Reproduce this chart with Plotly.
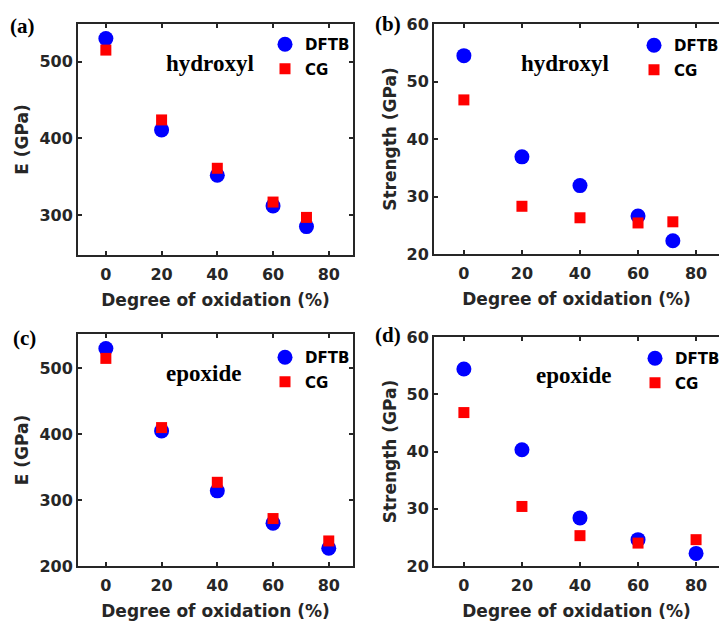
import plotly.graph_objects as go

# Degree of oxidation (%)
ox_hydroxyl = [0, 20, 40, 60, 72]
ox_epoxide = [0, 20, 40, 60, 80]

# Young's modulus E (GPa)
E_hydroxyl_dftb = [530, 411, 352, 312, 285]
E_hydroxyl_cg = [515, 424, 361, 317, 297]
E_epoxide_dftb = [530, 405, 314, 265, 227]
E_epoxide_cg = [515, 410, 327, 272, 238]

# Strength (GPa)
S_hydroxyl_dftb = [54.5, 36.9, 31.9, 26.6, 22.3]
S_hydroxyl_cg = [46.8, 28.3, 26.3, 25.4, 25.6]
S_epoxide_dftb = [54.4, 40.3, 28.4, 24.6, 22.2]
S_epoxide_cg = [46.8, 30.4, 25.3, 24.0, 24.6]

x_ticks = [0, 20, 40, 60, 80]

W, H = 719, 623
BLUE = "#0000FF"
RED = "#FF0000"
INK = "#262626"
SANS = "DejaVu Sans, Verdana, sans-serif"
SERIF = "Liberation Serif, Times New Roman, serif"


def fx(px):
    return px / W


def fy(px):
    return 1 - px / H


panels = [
    dict(x=ox_hydroxyl, d=E_hydroxyl_dftb, c=E_hydroxyl_cg,
         xd=[fx(78), fx(353)], yd=[fy(255), fy(24)],
         xr=[-10, 88.7], yr=[248, 549], yt=[300, 400, 500], yl="E (GPa)",
         note="hydroxyl", mirror=True),
    dict(x=ox_hydroxyl, d=S_hydroxyl_dftb, c=S_hydroxyl_cg,
         xd=[fx(434), 1.0], yd=[fy(254), fy(24)],
         xr=[-10.3, 87.9], yr=[20, 60], yt=[20, 30, 40, 50, 60], yl="Strength (GPa)",
         note="hydroxyl", mirror=False),
    dict(x=ox_epoxide, d=E_epoxide_dftb, c=E_epoxide_cg,
         xd=[fx(78), fx(353)], yd=[fy(566), fy(334)],
         xr=[-10, 88.7], yr=[200, 552], yt=[200, 300, 400, 500], yl="E (GPa)",
         note="epoxide", mirror=True),
    dict(x=ox_epoxide, d=S_epoxide_dftb, c=S_epoxide_cg,
         xd=[fx(434), 1.0], yd=[fy(566), fy(337)],
         xr=[-10.3, 87.9], yr=[20, 60], yt=[20, 30, 40, 50, 60], yl="Strength (GPa)",
         note="epoxide", mirror=False),
]

# legend anchor (circle centre) per panel, in pixels
legend_pos = [(285, 44), (654, 45), (285, 357), (655, 358)]
note_pos = [(210, 63), (565, 63), (203, 373), (573, 375)]
letter_pos = [(22, 26), (388, 24), (24, 338), (388, 335)]
letters = ["(a)", "(b)", "(c)", "(d)"]

fig = go.Figure()
layout = dict(
    width=W, height=H,
    margin=dict(l=0, r=0, t=0, b=0, autoexpand=False),
    paper_bgcolor="white", plot_bgcolor="white",
    showlegend=True,
    annotations=[],
)

for i, p in enumerate(panels):
    k = "" if i == 0 else str(i + 1)
    xa, ya = "x" + k, "y" + k
    leg = "legend" if i == 0 else "legend" + str(i + 1)
    fig.add_trace(go.Scatter(
        x=p["x"], y=p["d"], mode="markers", name="DFTB",
        marker=dict(symbol="circle", size=15, color=BLUE, line=dict(width=0)),
        xaxis=xa, yaxis=ya, legend=leg, legendgroup="dftb" + k, cliponaxis=False,
    ))
    fig.add_trace(go.Scatter(
        x=p["x"], y=p["c"], mode="markers", name="CG",
        marker=dict(symbol="square", size=11, color=RED, line=dict(width=0)),
        xaxis=xa, yaxis=ya, legend=leg, legendgroup="cg" + k, cliponaxis=False,
    ))

    layout["xaxis" + k] = dict(
        domain=p["xd"], range=p["xr"], anchor=ya,
        tickvals=x_ticks, ticks="inside", ticklen=4, tickwidth=1.5, tickcolor=INK,
        ticklabelstandoff=4,
        showline=True, linewidth=2, linecolor=INK, mirror="ticks",
        showgrid=False, zeroline=False,
        tickfont=dict(family=SANS, size=16, color=INK, weight="bold"),
        title=dict(text="<b>Degree of oxidation (%)</b>", standoff=11,
                   font=dict(family=SANS, size=17, color=INK)),
    )
    layout["yaxis" + k] = dict(
        domain=p["yd"], range=p["yr"], anchor=xa,
        tickvals=p["yt"], ticks="inside", ticklen=4, tickwidth=1.5, tickcolor=INK,
        showline=True, linewidth=2, linecolor=INK,
        mirror="ticks" if p["mirror"] else False,
        showgrid=False, zeroline=False,
        tickfont=dict(family=SANS, size=16, color=INK, weight="bold"),
        title=dict(text="<b>" + p["yl"] + "</b>", standoff=6,
                   font=dict(family=SANS, size=17, color=INK)),
    )

    lx, ly = legend_pos[i]
    layout[leg] = dict(
        x=fx(lx - 20), y=fy(ly - 16), xanchor="left", yanchor="top",
        bgcolor="rgba(0,0,0,0)", borderwidth=0, tracegroupgap=2,
        font=dict(family=SANS, size=15, color="black", weight="bold"),
    )

    nx, ny = note_pos[i]
    layout["annotations"].append(dict(
        text="<b>" + p["note"] + "</b>", x=fx(nx), y=fy(ny), xref="paper", yref="paper",
        xanchor="center", yanchor="middle", showarrow=False,
        font=dict(family=SERIF, size=23, color="black"),
    ))
    cx, cy = letter_pos[i]
    layout["annotations"].append(dict(
        text="<b>" + letters[i] + "</b>", x=fx(cx), y=fy(cy), xref="paper", yref="paper",
        xanchor="center", yanchor="middle", showarrow=False,
        font=dict(family=SERIF, size=21, color="black"),
    ))

fig.update_layout(**layout)
fig.write_html("out.html")
